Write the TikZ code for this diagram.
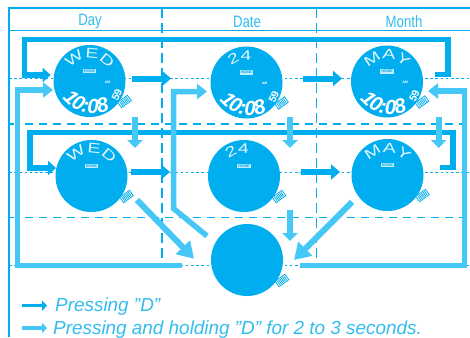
\documentclass[tikz,border=0pt]{standalone}
\usepackage{fontspec}
\setmainfont{Liberation Sans}
\newfontfamily\widefam[FakeStretch=1.4]{Liberation Sans}
\usetikzlibrary{arrows.meta,decorations.text}
\definecolor{cdark}{HTML}{00AEEF}
\definecolor{clight}{HTML}{45C8F5}
\definecolor{ctext}{HTML}{33BDEF}
\definecolor{cpale}{HTML}{C4ECFB}
\definecolor{cword}{HTML}{E0F5FD}
\newcommand\wordfont{\widefam\fontsize{14}{14}\selectfont\color{cword}}
\newcommand\timefont{\fontsize{20.5}{20.5}\selectfont\bfseries\itshape\color{white}}
\newcommand\secfont{\fontsize{10.5}{10.5}\selectfont\bfseries\color{white}}
\tikzset{
  face/.style={circle,fill=cdark,minimum size=72pt,inner sep=0pt},
  homebox/.style={fill=cpale,text=cdark,font=\fontsize{3.8}{4}\selectfont\bfseries,inner xsep=1.2pt,inner ysep=0.8pt},
  amlabel/.style={text=white,font=\fontsize{3.5}{4}\selectfont\bfseries,inner sep=0pt},
  header/.style={text=ctext,font=\fontsize{16.5}{16.5}\selectfont,xscale=.8,inner sep=0pt},
  legendtext/.style={text=ctext,font=\fontsize{18.9}{20}\selectfont\itshape,anchor=base west,inner sep=0pt},
  frameline/.style={draw=cdark,line width=1.5pt},
  thindash/.style={draw=cdark,line width=1pt,dash pattern=on 2.6pt off 2.6pt},
  thickdash/.style={draw=cdark,line width=1.6pt,dash pattern=on 8pt off 6pt},
  vdash/.style={draw=cdark,line width=1.8pt,dash pattern=on 10pt off 5pt},
  darkloop/.style={draw=cdark,line width=5.5pt,-{Triangle[length=8pt,width=14pt]}},
  darkstep/.style={draw=cdark,line width=6pt,-{Triangle[length=9pt,width=15pt]}},
  lightloop/.style={draw=clight,line width=5.5pt,-{Triangle[length=10pt,width=15pt]}},
  lightstep/.style={draw=clight,line width=6pt,-{Triangle[length=8pt,width=15pt]}},
  lightdiag/.style={draw=clight,line width=6pt,-{Triangle[length=16pt,width=19pt]}},
  legdark/.style={draw=cdark,line width=3.5pt,-{Triangle[length=5pt,width=10pt]}},
  leglight/.style={draw=clight,line width=3.5pt,-{Triangle[length=5pt,width=10pt]}}
}
% name, x, y
\newcommand\watchbody[3]{%
  \node[face] (#1) at (#2,#3) {};
  \begin{scope}[shift={(#2,#3)},shift={(35,20.5)},rotate=36]
    \draw[draw=cdark,fill=white,line width=.8pt] (-6,-3.3) rectangle (6,3.3);
    \foreach \k in {-4,-2.4,-0.8,0.8,2.4,4} \draw[cdark,line width=.8pt] (\k,-2.4) -- (\k,2.4);
  \end{scope}
}
% name, word, rotation, half angle of the arc
\newcommand\watchword[4]{%
  \begin{scope}[shift={(#1)}]
    \begin{scope}[rotate=#3]
    \path[decorate,decoration={text along path,text align={center},text={|\wordfont|#2}}]
      ({-22.5*sin(#4)},{-22.5*cos(#4)}) arc[start angle={-90-#4},end angle={-90+#4},radius=22.5];
    \end{scope}
    \node[homebox] (#1home) at (0,-10) {HOME};
  \end{scope}
}
\newcommand\watchtime[1]{%
  \begin{scope}[shift={(#1)}]
    \node[amlabel] (#1am) at (18,1) {AM};
    \path[decorate,decoration={text along path,text align=center,text={|\timefont|10:08}}]
      (-30,13) .. controls (-18,33) and (5,38) .. (25,27);
    \path[decorate,decoration={text along path,text align=center,text={|\secfont|59}}]
      (25,25) .. controls (29,20) and (32,14) .. (34,5);
  \end{scope}
}
\begin{document}
\begin{tikzpicture}[x=1pt,y=-1pt]
\useasboundingbox (0,0) rectangle (470,337);
\fill[white] (0,0) rectangle (470,337);
% grid
\coordinate (gTL) at (9,8);
\coordinate (gTR) at (470,8);
\coordinate (gBL) at (9,337);
\draw[frameline] (gTR) -- (gTL) -- (gBL);
\draw[draw=cdark,line width=1pt] (9,31) -- (470,31);
\foreach \yy in {78.5,172,265} \draw[thindash] (9,\yy) -- (470,\yy);
\foreach \yy in {124,217.5} {
  \draw[frameline] (9,\yy) -- (14,\yy);
  \draw[thickdash] (25,\yy) -- (462,\yy);
}
\draw[vdash] (162,8) -- (162,265);
\draw[vdash] (316.5,8) -- (316.5,265);
% headers
\node[header] (hDay) at (90,22) {Day};
\node[header] (hDate) at (247,22) {Date};
\node[header] (hMonth) at (404,22) {Month};
% watches
\watchbody{dayA}{89.5}{81}
\watchbody{dateA}{246.5}{82.5}
\watchbody{monthA}{387}{81.5}
\watchbody{dayB}{91.5}{176}
\watchbody{dateB}{244}{176}
\watchbody{monthB}{387.5}{175}
\watchbody{blank}{247}{260}
\watchword{dayA}{WED}{0}{60}\watchtime{dayA}
\watchword{dateA}{24}{15}{40}\watchtime{dateA}
\watchword{monthA}{MAY}{0}{60}\watchtime{monthA}
\watchword{dayB}{WED}{0}{60}
\watchword{dateB}{24}{15}{40}
\watchword{monthB}{MAY}{0}{60}
% dark connectors
\draw[darkstep] ([shift={(42.5,-2.5)}]dayA.center) -- ([shift={(-75.5,-4)}]dateA.center);
\draw[darkstep] ([shift={(56.5,-4)}]dateA.center) -- ([shift={(-45,-3)}]monthA.center);
\draw[darkstep] ([shift={(39.5,-4)}]dayB.center) -- ([shift={(-74,-4)}]dateB.center);
\draw[darkstep] ([shift={(57,-4)}]dateB.center) -- ([shift={(-47.5,-3)}]monthB.center);
\draw[darkloop,line join=miter] ([shift={(48,-7)}]monthA.center) -| ([shift={(61,-42)}]monthA.center) -- ([shift={(-65,-41.5)}]dayA.center) |- ([shift={(-38.8,-6)}]dayA.center);
\draw[darkloop,line join=miter] ([shift={(52.5,-7.5)}]monthB.center) -| ([shift={(65.5,-42.5)}]monthB.center) -- ([shift={(-61.5,-43.5)}]dayB.center) |- ([shift={(-35.5,-8)}]dayB.center);
% light connectors
\draw[lightstep] ([shift={(45.5,36)}]dayA.center) -- ([shift={(43.5,-28)}]dayB.center);
\draw[lightstep] ([shift={(43.5,34.5)}]dateA.center) -- ([shift={(46,-28)}]dateB.center);
\draw[lightstep] ([shift={(51.7,35.5)}]monthA.center) -- ([shift={(51.2,-27)}]monthB.center);
\draw[lightstep] ([shift={(46,34)}]dateB.center) -- ([shift={(43,-19)}]blank.center);
\draw[lightdiag] ([shift={(45.5,24)}]dayB.center) -- ([shift={(-53,-1.3)}]blank.center);
\draw[lightdiag] ([shift={(-35.5,27)}]monthB.center) -- ([shift={(47,0)}]blank.center);
\draw[lightloop,line join=miter] ([shift={(-65,5.5)}]blank.center) -- ([shift={(-229.5,5.5)}]blank.center) |- ([shift={(-36.5,9)}]dayA.center);
\draw[lightloop,line join=miter] ([shift={(-40,-24)}]blank.center) -- ([shift={(-73.5,-51.5)}]blank.center) |- ([shift={(-39.5,9)}]dateA.center);
\draw[lightloop,line join=miter] ([shift={(53,5.5)}]blank.center) -| ([shift={(77.3,9.5)}]monthA.center) -- ([shift={(41,9.5)}]monthA.center);
% legend
\coordinate (lgA0) at (22,305.7);
\coordinate (lgA1) at (47,305.7);
\coordinate (lgB0) at (22,328);
\coordinate (lgB1) at (47,328);
\draw[legdark] (lgA0) -- (lgA1);
\draw[leglight] (lgB0) -- (lgB1);
\node[legendtext] (legA) at (55,311.5) {Pressing "D"};
\node[legendtext] (legB) at (53,334) {Pressing and holding "D" for 2 to 3 seconds.};
\end{tikzpicture}
\end{document}
